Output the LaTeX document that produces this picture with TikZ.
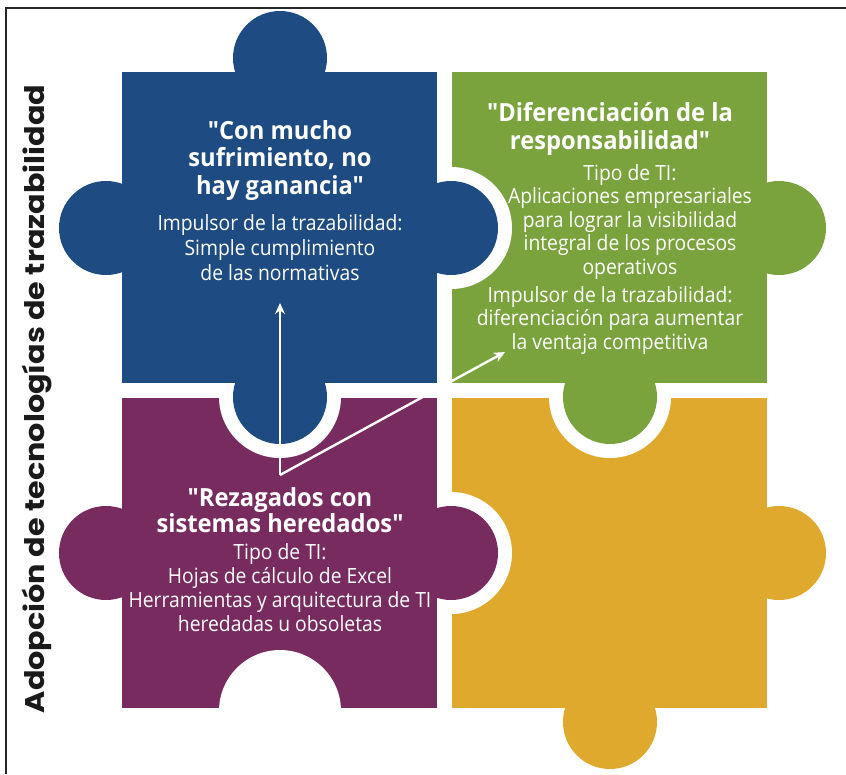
\documentclass[tikz,border=0pt]{standalone}
\usepackage{fontspec}
\setmainfont{Open Sans}
\newfontfamily\titlefont[FakeStretch=0.95]{Open Sans}
\newfontfamily\bodyfont[FakeStretch=0.92]{Open Sans}
\newfontfamily\labelfont[FakeStretch=1.12]{Poppins}
\usetikzlibrary{arrows.meta}
\definecolor{pblue}{HTML}{1E4B82}
\definecolor{pgreen}{HTML}{7AA33D}
\definecolor{ppurple}{HTML}{772B5F}
\definecolor{pyellow}{HTML}{DEA92C}
\definecolor{labelc}{HTML}{1A1A1A}
\tikzset{
  ttl/.style={text=white, align=center, inner sep=0pt, font=\titlefont\bfseries\fontsize{25}{27.5}\selectfont},
  bdy/.style={text=white, align=center, inner sep=0pt, font=\bodyfont\fontsize{21}{24}\selectfont},
  arr/.style={draw=white, line width=2.4pt, -{Stealth[length=11pt,width=10pt]}}
}
\begin{document}
\begin{tikzpicture}[x=1pt,y=-1pt]
\path[use as bounding box, fill=white] (0,0) rectangle (846,774);
% frame
\draw[line width=1.6pt, black!85] (6,774) -- (6,8) -- (846,8);
% squares
\fill[pblue] (122,72) rectangle (437,383);
\fill[pgreen] (452,72) rectangle (767,383);
\fill[ppurple] (122,398) rectangle (437,708);
\fill[pyellow] (452,398) rectangle (767,708);
% indents
\begin{scope}
  \clip (452,72) rectangle (767,383);
  \fill[white] (451,228) circle[radius=61pt];
\end{scope}
\begin{scope}
  \clip (122,398) rectangle (437,708);
  \fill[white] (280,397) circle[radius=61pt];
  \fill[white] (280,711) circle[radius=61pt];
\end{scope}
\begin{scope}
  \clip (452,398) rectangle (767,708);
  \fill[white] (610,397) circle[radius=61pt];
  \fill[white] (451,553) circle[radius=61pt];
\end{scope}
% tabs
\fill[pblue] (280,58) circle[radius=47pt];
\fill[pblue] (106,228) circle[radius=47pt];
\fill[pblue] (451,228) circle[radius=47pt];
\fill[pblue] (280,397) circle[radius=47pt];
\fill[pgreen] (779,228) circle[radius=47pt];
\fill[pgreen] (610,397) circle[radius=47pt];
\fill[ppurple] (106,553) circle[radius=47pt];
\fill[ppurple] (451,553) circle[radius=47pt];
\fill[pyellow] (779,553) circle[radius=47pt];
\fill[pyellow] (610,722) circle[radius=47pt];
% arrows
\coordinate (o) at (280,475);
\coordinate (up) at (280,303);
\coordinate (dg) at (505,352);
\draw[arr] (o) -- (up);
\draw[arr] (o) -- (dg);
% texts
\node[ttl] (bt) at (280,160.5) {"Con mucho\\sufrimiento, no\\hay ganancia"};
\node[bdy, font=\bodyfont\fontsize{21}{25}\selectfont] (bb) at (280,248) {Impulsor de la trazabilidad:\\Simple cumplimiento\\de las normativas};
\node[ttl] (gt) at (610,129) {"Diferenciación de la\\responsabilidad"};
\node[bdy, font=\bodyfont\fontsize{21}{23.5}\selectfont] (gb1) at (630,222) {Tipo de TI:\\Aplicaciones empresariales\\para lograr la visibilidad\\integral de los procesos\\operativos};
\node[bdy, font=\bodyfont\fontsize{21}{23.5}\selectfont] (gb2) at (610,320.5) {Impulsor de la trazabilidad:\\diferenciación para aumentar\\la ventaja competitiva};
\node[ttl, font=\titlefont\bfseries\fontsize{25}{25.5}\selectfont] (pt) at (280,510) {"Rezagados con\\sistemas heredados"};
\node[bdy] (pb) at (280,588) {Tipo de TI:\\Hojas de cálculo de Excel\\Herramientas y arquitectura de TI\\heredadas u obsoletas};
% axis label
\node[rotate=90, text=labelc, inner sep=0pt, font=\labelfont\bfseries\fontsize{27}{30}\selectfont] (lbl) at (37,399) {Adopción de tecnologías de trazabilidad};
\end{tikzpicture}
\end{document}
